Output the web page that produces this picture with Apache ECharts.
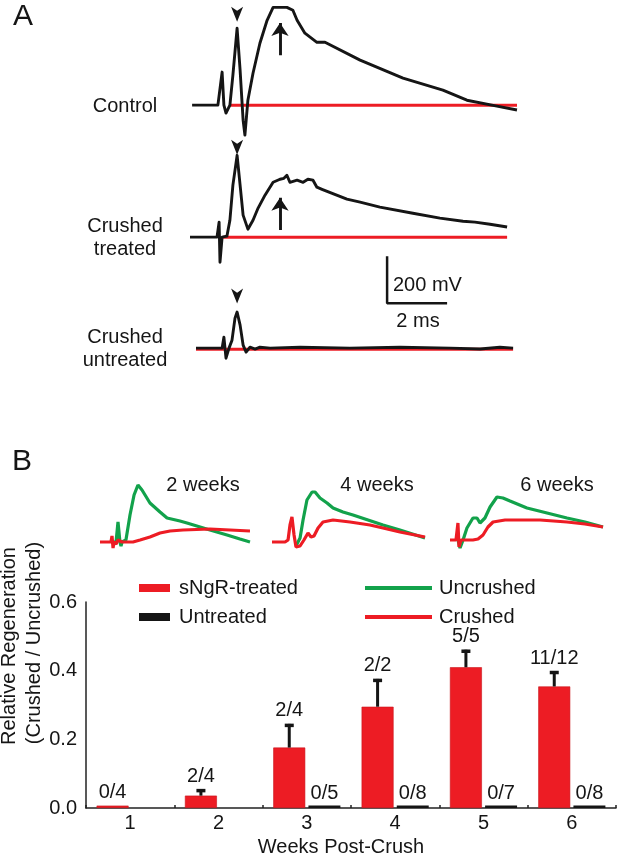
<!DOCTYPE html>
<html>
<head>
<meta charset="utf-8">
<script src="https://cdn.jsdelivr.net/npm/echarts@6/dist/echarts.min.js"></script>
<style>
html,body{margin:0;padding:0;background:#fff;}
#chart{width:617px;height:853px;}
</style>
</head>
<body>
<div id="chart"></div>
<script>
// ---------- Panel A: compound action potentials (time in ms, amplitude in mV) ----------
const ctrlTrace = [[0.07,0],[0.93,0],[1.07,141],[1.13,0],[1.2,-34],[1.33,0],[1.43,128],[1.57,328],[1.67,149],[1.77,-64],[1.83,-128],[1.93,21],[2.1,136],[2.33,264],[2.57,362],[2.77,417],[3.23,417],[3.43,405],[3.57,362],[3.83,307],[4.23,268],[4.5,268],[5.67,192],[7.1,115],[8.43,64],[9.23,21],[10.23,-4],[10.9,-21]];
const ctrlCrushed = [[1.33,0],[10.9,0]];
const treatedTrace = [[0,0],[0.9,0],[0.97,64],[1.0,-107],[1.07,0],[1.23,4],[1.33,72],[1.43,222],[1.57,349],[1.67,222],[1.77,94],[1.93,34],[2.1,72],[2.27,124],[2.5,179],[2.77,234],[3.0,247],[3.13,251],[3.23,264],[3.33,234],[3.57,243],[3.77,234],[3.93,247],[4.1,243],[4.23,213],[4.4,204],[5.23,162],[5.67,149],[6.33,128],[7.43,102],[8.33,81],[9.1,68],[9.5,64],[10.0,55],[10.57,43]];
const treatedCrushed = [[1.1,0],[10.57,0]];
const untreatedTrace = [[0.2,0],[1.07,0],[1.13,47],[1.2,-43],[1.3,0],[1.4,34],[1.5,128],[1.57,154],[1.67,98],[1.77,13],[1.87,-17],[2.0,4],[2.17,-4],[2.33,4],[2.67,0],[3.67,4],[5.33,0],[7.0,4],[8.67,0],[9.67,-4],[10.33,4],[10.77,0]];
const untreatedCrushed = [[0.2,-5],[10.77,-5]];
const arrowHeadsA = [[[1.57,388]],[[1.57,384]],[[1.57,222]]];
const upArrowsA = [[[3.0,213],[3.0,350]],[[3.0,30],[3.0,168]]];
const scaleBar = [[6.57,392],[6.57,192],[8.57,192]]; // 200 mV, 2 ms

// ---------- Panel B: example traces (time in ms, amplitude a.u.) ----------
const wk2Uncrushed = [[0.87,0],[1.07,0],[1.2,200],[1.33,0],[1.4,-40],[1.47,0],[1.73,20],[2.0,270],[2.27,470],[2.53,570],[2.8,520],[3.33,390],[4.0,300],[4.47,240],[5.33,210],[5.8,190],[7.33,120],[8.47,70],[9.33,30],[10.0,0]];
const wk2Crushed = [[0,0],[0.73,0],[0.8,60],[0.87,-60],[0.93,0],[1.07,-20],[1.2,20],[1.47,0],[2.2,0],[2.67,20],[3.33,50],[4.0,90],[4.67,110],[5.53,120],[7.33,130],[8.67,120],[10.0,110]];
const wk4Uncrushed = [[1.6,-40],[1.87,40],[2.07,220],[2.33,420],[2.67,500],[2.87,500],[3.2,440],[3.67,390],[4.07,340],[4.73,300],[5.4,270],[6.4,220],[7.4,170],[8.53,120],[10.2,40]];
const wk4Crushed = [[0,0],[0.87,0],[1.07,20],[1.2,170],[1.33,250],[1.47,70],[1.6,-50],[1.73,-60],[1.87,-40],[2.13,20],[2.4,90],[2.6,50],[2.8,60],[3.07,140],[3.4,200],[4.07,220],[5.2,200],[6.53,170],[7.4,140],[8.53,100],[10.2,50]];
const wk6Uncrushed = [[0.53,0],[0.67,-80],[0.87,0],[1.13,120],[1.53,220],[1.8,220],[2.0,170],[2.33,220],[2.67,330],[3.13,430],[3.53,420],[4.0,390],[5.13,320],[6.47,270],[7.8,220],[9.0,180],[10.2,130]];
const wk6Crushed = [[0,0],[0.4,0],[0.53,170],[0.6,-70],[0.73,0],[1.13,0],[1.53,0],[1.87,10],[2.2,50],[2.53,130],[2.87,180],[3.67,200],[4.47,200],[6.0,200],[7.8,180],[9.0,160],[10.2,130]];

// ---------- Panel B: bar chart ----------
const weeks = ['1','2','3','4','5','6'];
const sNgRMean = [0.007, 0.036, 0.176, 0.295, 0.41, 0.354];
const sNgRErr  = [0, 0.019, 0.069, 0.081, 0.051, 0.045];
const sNgRCounts = ['0/4','2/4','2/4','2/2','5/5','11/12'];
const untreatedMean = ['-','-', 0.007, 0.007, 0.007, 0.007];
const untreatedCounts = ['','','0/5','0/8','0/7','0/8'];
const yTicks = [0, 0.2, 0.4, 0.6];

const FONT = '"Liberation Sans", Arial, Helvetica, sans-serif';
const RED = '#ED1C24', GREEN = '#12A24B', BLACK = '#151515';

const chart = echarts.init(document.getElementById('chart'), null, {renderer:'canvas'});

function hiddenX(min, max){ return {type:'value', min, max, show:false}; }
function hiddenY(min, max){ return {type:'value', min, max, show:false}; }
const lineBase = {type:'line', showSymbol:false, symbol:'none', silent:true, clip:false, animation:false};

const grids = [
  {left:190, top:2, width:330, height:150},
  {left:190, top:134, width:330, height:150},
  {left:190, top:245, width:330, height:150},
  {left:100, top:482, width:157.5, height:70},
  {left:272, top:482, width:157.5, height:70},
  {left:450, top:480, width:157.5, height:70},
  {left:86, top:602, right:1, height:206}
];

const xAxes = [hiddenX(0,11), hiddenX(0,11), hiddenX(0,11), hiddenX(0,10.5), hiddenX(0,10.5), hiddenX(0,10.5),
  {type:'category', gridIndex:6, data:weeks,
   axisLine:{show:true, lineStyle:{color:'#222', width:1.5}},
   axisTick:{show:true, inside:true, length:3, alignWithLabel:false, lineStyle:{color:'#222', width:1.5}},
   axisLabel:{fontFamily:FONT, fontSize:20, color:BLACK, margin:5}}];
xAxes.forEach((a,i)=>{ a.gridIndex = i; });
const yAxes = [hiddenY(-200,440), hiddenY(-200,440), hiddenY(-200,440), hiddenY(-100,600), hiddenY(-100,600), hiddenY(-100,600),
  {type:'value', min:yTicks[0], max:yTicks[yTicks.length-1], interval:0.2,
   axisLine:{show:true, lineStyle:{color:'#222', width:1.5}},
   axisTick:{show:false}, splitLine:{show:false},
   axisLabel:{fontFamily:FONT, fontSize:20, color:BLACK, margin:9, formatter:v=>v.toFixed(1)}}];
yAxes.forEach((a,i)=>{ a.gridIndex = i; });

const series = [];
// Panel A traces
[[ctrlCrushed, ctrlTrace],[treatedCrushed, treatedTrace],[untreatedCrushed, untreatedTrace]].forEach((pair, g)=>{
  series.push(Object.assign({}, lineBase, {xAxisIndex:g, yAxisIndex:g, data:pair[0], lineStyle:{color:RED, width:3}, z:2}));
  series.push(Object.assign({}, lineBase, {xAxisIndex:g, yAxisIndex:g, data:pair[1], lineStyle:{color:BLACK, width:2.9, join:'round'}, z:3}));
  series.push({type:'scatter', xAxisIndex:g, yAxisIndex:g, data:arrowHeadsA[g], silent:true, animation:false,
    symbol:'path://M0,0 L5,3.5 L10,0 L5,13 Z', symbolSize:[12,15], itemStyle:{color:BLACK, opacity:1}, z:4});
});
upArrowsA.forEach((a, g)=>{
  series.push({type:'lines', coordinateSystem:'cartesian2d', xAxisIndex:g, yAxisIndex:g, silent:true, animation:false,
    symbol:['none','arrow'], symbolSize:13, lineStyle:{color:BLACK, width:2.9, opacity:1},
    data:[{coords:a}], z:4});
});
series.push(Object.assign({}, lineBase, {xAxisIndex:2, yAxisIndex:2, data:scaleBar, lineStyle:{color:BLACK, width:2.5}, z:4}));

// Panel B traces
[[wk2Uncrushed, wk2Crushed],[wk4Uncrushed, wk4Crushed],[wk6Uncrushed, wk6Crushed]].forEach((pair, k)=>{
  const g = 3 + k;
  series.push(Object.assign({}, lineBase, {name:'Uncrushed', xAxisIndex:g, yAxisIndex:g, data:pair[0], color:GREEN, lineStyle:{color:GREEN, width:3.2}, z:2}));
  series.push(Object.assign({}, lineBase, {name:'Crushed', xAxisIndex:g, yAxisIndex:g, data:pair[1], color:RED, lineStyle:{color:RED, width:3.2}, z:3}));
});

// Bars
series.push({name:'sNgR-treated', type:'bar', xAxisIndex:6, yAxisIndex:6, data:sNgRMean, color:RED,
  barCategoryGap:'24%', barGap:'10%', itemStyle:{color:RED, borderColor:'#C9141B', borderWidth:0.6}, animation:false, silent:true});
series.push({name:'Untreated', type:'bar', xAxisIndex:6, yAxisIndex:6, data:untreatedMean, color:BLACK,
  barCategoryGap:'24%', barGap:'10%', itemStyle:{color:BLACK}, animation:false, silent:true,
  label:{show:true, position:'top', distance:2, fontFamily:FONT, fontSize:20, color:BLACK,
    formatter:p=>untreatedCounts[p.dataIndex]}});
series.push({type:'custom', xAxisIndex:6, yAxisIndex:6, silent:true, animation:false, z:5,
  data:sNgRMean.map((v,i)=>[i, v, sNgRErr[i]]),
  renderItem:function(params, api){
    const i = api.value(0), v = api.value(1), e = api.value(2);
    const base = api.coord([i, v]);
    const top = api.coord([i, v + e]);
    const cw = api.size([1,0])[0];
    const bw = cw*(1-0.24)/(2+0.1);
    const cx = base[0] - (bw + bw*0.1)/2;
    const children = [];
    if (e > 0) {
      children.push({type:'line', shape:{x1:cx, y1:base[1], x2:cx, y2:top[1]}, style:{stroke:BLACK, lineWidth:3}});
      children.push({type:'line', shape:{x1:cx-4.5, y1:top[1]+1.5, x2:cx+4.5, y2:top[1]+1.5}, style:{stroke:BLACK, lineWidth:3.5}});
    }
    children.push({type:'text', x:cx, y:top[1]-3, style:{text:sNgRCounts[params.dataIndex], align:'center', verticalAlign:'bottom',
      font:'20px ' + FONT, fill:BLACK}});
    return {type:'group', children};
  }});

function legendItem(name, left, top, w, h, pad){
  return {data:[{name, icon:'rect'}], left, top, orient:'horizontal', itemWidth:w, itemHeight:h, selectedMode:false,
    textStyle:{fontFamily:FONT, fontSize:20, color:BLACK, padding:[0,0,0,pad]}, itemStyle:{borderWidth:0}};
}

const T = (text, x, y, size, extra) => ({type:'text', x, y, silent:true,
  style:Object.assign({text, font:size + 'px ' + FONT, fill:BLACK, align:'center', verticalAlign:'middle'}, extra||{})});

const graphics = [
  T('A', 23, 17, 30),
  T('B', 22, 462, 30),
  T('Control', 125, 106, 20),
  T('Crushed', 125, 226, 20), T('treated', 125, 249, 20),
  T('Crushed', 125, 337, 20), T('untreated', 125, 360, 20),
  T('200 mV', 393, 285, 20, {align:'left'}),
  T('2 ms', 418, 321, 20),
  T('2 weeks', 203, 485, 20),
  T('4 weeks', 377, 485, 20),
  T('6 weeks', 557, 485, 20),
  T('Weeks Post-Crush', 341, 847, 20),
  Object.assign(T('Relative Regeneration', 9, 646, 20), {rotation:Math.PI/2}),
  Object.assign(T('(Crushed / Uncrushed)', 34, 643, 20), {rotation:Math.PI/2})
];

chart.setOption({
  animation:false,
  backgroundColor:'#fff',
  textStyle:{fontFamily:FONT},
  grid:grids, xAxis:xAxes, yAxis:yAxes, series,
  legend:[
    legendItem('sNgR-treated', 134, 573, 31, 8, 4),
    legendItem('Untreated', 134, 602, 31, 8, 4),
    legendItem('Uncrushed', 360, 573, 67, 4, 2),
    legendItem('Crushed', 360, 602, 67, 4, 2)
  ],
  graphic:graphics
});
</script>
</body>
</html>
